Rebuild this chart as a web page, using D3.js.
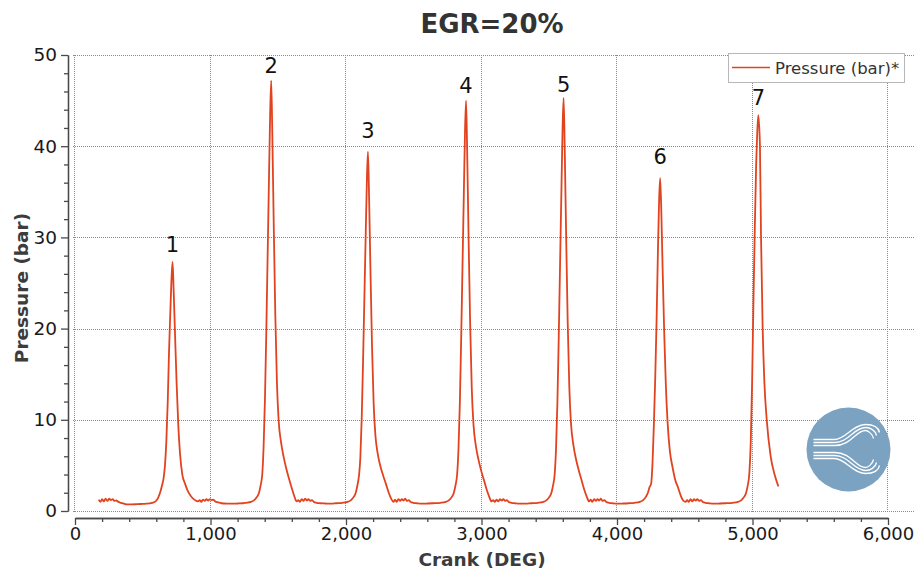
<!DOCTYPE html>
<html>
<head>
<meta charset="utf-8">
<script src="https://cdn.jsdelivr.net/npm/d3@7"></script>
<style>
  html, body { margin: 0; padding: 0; background: #fff; }
  svg { display: block; font-family: "DejaVu Sans", Verdana, sans-serif; }
</style>
</head>
<body>
<svg id="chart" width="915" height="574"></svg>
<script>
// Cylinder pressure trace, EGR = 20 %
const crankDeg = [
  175, 188, 200, 213, 226, 240, 252, 265, 278, 290, 305, 320, 340, 360, 380, 420, 460, 500, 530,
  570, 595, 615, 630, 642, 654, 664, 674, 684, 694, 704, 712, 720, 728, 738, 750, 762, 775, 792, 812, 832, 852, 872, 890, 908,
  920, 932, 945, 958, 970, 983, 995, 1008, 1020, 1035, 1055, 1080, 1120, 1160, 1200, 1240,
  1258, 1298, 1323, 1343, 1358, 1370, 1382, 1392, 1402, 1412, 1422, 1432, 1440, 1448, 1456, 1466, 1478, 1490, 1503, 1520, 1540, 1560, 1580, 1600, 1618, 1636,
  1648, 1660, 1673, 1686, 1698, 1711, 1723, 1736, 1748, 1763, 1783, 1808, 1848, 1888, 1928,
  1972, 2012, 2037, 2057, 2072, 2084, 2096, 2106, 2116, 2126, 2136, 2146, 2154, 2162, 2170, 2180, 2192, 2204, 2217, 2234, 2254, 2274, 2294, 2314, 2332, 2350,
  2362, 2374, 2387, 2400, 2412, 2425, 2437, 2450, 2462, 2477, 2497, 2522, 2562, 2602, 2642,
  2696, 2736, 2761, 2781, 2796, 2808, 2820, 2830, 2840, 2850, 2860, 2870, 2878, 2886, 2894, 2904, 2916, 2928, 2941, 2958, 2978, 2998, 3018, 3038, 3056, 3074,
  3086, 3098, 3111, 3124, 3136, 3149, 3161, 3174, 3186, 3201, 3221, 3246, 3286, 3326, 3366,
  3416, 3456, 3481, 3501, 3516, 3528, 3540, 3550, 3560, 3570, 3580, 3590, 3598, 3606, 3614, 3624, 3636, 3648, 3661, 3678, 3698, 3718, 3738, 3758, 3776, 3794,
  3806, 3818, 3831, 3844, 3856, 3869, 3881, 3894, 3906, 3921, 3941, 3966, 4006, 4046, 4086,
  4128, 4168, 4193, 4213, 4228, 4240, 4252, 4262, 4272, 4282, 4292, 4302, 4310, 4318, 4326, 4336, 4348, 4360, 4373, 4390, 4410, 4430, 4450, 4470, 4488, 4506,
  4518, 4530, 4543, 4556, 4568, 4581, 4593, 4606, 4618, 4633, 4653, 4678, 4718, 4758, 4798,
  4853, 4893, 4918, 4938, 4953, 4965, 4977, 4987, 4997, 5007, 5017, 5027, 5035, 5043, 5055, 5063, 5075, 5088, 5105, 5134, 5163, 5191
];

const pressureBar = [
  1.25, 1.0, 1.3, 1.05, 1.35, 1.1, 1.35, 1.2, 1.3, 1.1, 1.15, 1.0, 0.9, 0.8, 0.72, 0.72, 0.75, 0.78, 0.8,
  0.9, 1.05, 1.5, 2.1, 2.8, 3.6, 5.0, 7.6, 11.8, 17.5, 22.0, 25.4, 27.3, 24.2, 19.5, 14.0, 9.5, 6.3, 4.0, 3.0, 2.2, 1.7, 1.35, 1.15, 1.05,
  1.2, 1.0, 1.25, 1.1, 1.3, 1.15, 1.3, 1.2, 1.25, 1.05, 0.95, 0.85, 0.8, 0.8, 0.82, 0.85,
  0.9, 1.0, 1.2, 1.55, 2.0, 2.8, 4.0, 7.1, 12.3, 19.8, 28.3, 36.8, 43.4, 47.2, 41.5, 32.1, 21.7, 14.2, 9.9, 7.6, 5.9, 4.6, 3.5, 2.5, 1.65, 1.05,
  1.2, 1.0, 1.3, 1.1, 1.35, 1.15, 1.3, 1.1, 1.2, 1.0, 0.9, 0.85, 0.82, 0.8, 0.85,
  0.9, 1.0, 1.2, 1.55, 2.0, 2.8, 3.9, 5.9, 10.2, 16.5, 23.6, 30.7, 36.2, 39.4, 34.7, 26.8, 18.1, 11.8, 8.3, 6.3, 4.9, 3.9, 3.0, 2.05, 1.4, 1.0,
  1.25, 1.0, 1.3, 1.1, 1.3, 1.15, 1.35, 1.1, 1.2, 1.0, 0.9, 0.85, 0.8, 0.82, 0.85,
  0.9, 1.0, 1.2, 1.55, 2.0, 2.8, 4.0, 6.75, 11.7, 18.9, 27.0, 35.1, 41.4, 45.0, 39.6, 30.6, 20.7, 13.5, 9.45, 7.2, 5.6, 4.4, 3.4, 2.35, 1.6, 1.05,
  1.2, 1.0, 1.25, 1.05, 1.3, 1.15, 1.3, 1.1, 1.2, 1.0, 0.9, 0.85, 0.8, 0.8, 0.85,
  0.9, 1.0, 1.2, 1.55, 2.0, 2.8, 4.0, 6.8, 11.8, 19.0, 27.2, 35.3, 41.7, 45.3, 39.9, 30.8, 20.8, 13.6, 9.5, 7.25, 5.65, 4.45, 3.4, 2.35, 1.6, 1.05,
  1.25, 1.0, 1.3, 1.1, 1.3, 1.15, 1.35, 1.1, 1.2, 1.0, 0.9, 0.85, 0.8, 0.82, 0.85,
  0.9, 1.0, 1.2, 1.55, 2.0, 2.6, 3.0, 5.2, 9.4, 14.5, 20.8, 28.5, 33.6, 36.5, 33.5, 27.0, 19.8, 14.0, 9.8, 6.6, 4.8, 3.4, 2.6, 1.7, 1.15, 1.0,
  1.2, 1.0, 1.3, 1.05, 1.3, 1.15, 1.3, 1.1, 1.2, 1.0, 0.9, 0.85, 0.8, 0.82, 0.85,
  0.9, 1.0, 1.2, 1.55, 2.0, 2.8, 4.2, 7.5, 14.0, 23.0, 31.0, 38.0, 41.5, 43.4, 40.0, 30.0, 20.0, 14.0, 10.0, 6.0, 4.0, 2.7
];

// Cycle numbers written above each firing peak (anchor height in bar)
const peakLabels = ["1", "2", "3", "4", "5", "6", "7"];
const peakCrank = [720, 1448, 2162, 2886, 3606, 4318, 5043];
const peakLabelBar = [28.4, 48.0, 40.9, 45.8, 45.9, 38.05, 44.5];

const xMajorTicks = [0, 1000, 2000, 3000, 4000, 5000, 6000];
const yMajorTicks = [0, 10, 20, 30, 40, 50];

const chartTitle = "EGR=20%";
const xTitle = "Crank (DEG)";
const yTitle = "Pressure (bar)";
const seriesName = "Pressure (bar)*";

const W = 915, H = 574;
const lineColor = "#e2431f";
const svg = d3.select("#chart");

const x = d3.scaleLinear().domain([0, 6000]).range([75, 888]);
const y = d3.scaleLinear().domain([0, 50]).range([511, 55]);

// grid (dotted), running on past the last axis tick to the window edge
const grid = svg.append("g").attr("stroke", "#8a8a8a").attr("stroke-width", 1)
  .attr("stroke-dasharray", "1,1").attr("shape-rendering", "crispEdges");
grid.selectAll("line.h").data(yMajorTicks).join("line").attr("class", "h")
  .attr("x1", x(0) - 2).attr("x2", W)
  .attr("y1", d => Math.round(y(d)) + 0.5).attr("y2", d => Math.round(y(d)) + 0.5);
grid.selectAll("line.v").data(xMajorTicks).join("line").attr("class", "v")
  .attr("y1", y(50)).attr("y2", y(0) + 1)
  .attr("x1", d => Math.round(x(d)) - 0.5).attr("x2", d => Math.round(x(d)) - 0.5);

// axes, offset from the plot frame
const axisColor = "#4a4a4a";
const xAxisY = 518, yAxisX = 68;

const xMinor = d3.range(0, 6001, 200).filter(v => v % 1000 !== 0);
const yMinor = d3.range(0, 51, 2).filter(v => v % 10 !== 0);

const gx = svg.append("g").attr("transform", `translate(0,${xAxisY})`);
gx.append("g").call(d3.axisBottom(x).tickValues(xMinor).tickSize(4).tickSizeOuter(0).tickFormat(""));
gx.append("g").call(d3.axisBottom(x).tickValues(xMajorTicks).tickSize(7).tickSizeOuter(0)
  .tickPadding(2).tickFormat(d3.format(",")));
gx.selectAll("path, line").attr("stroke", axisColor).attr("stroke-width", 1.3);
gx.selectAll("text").attr("font-size", 18).attr("fill", "#1a1a1a")
  .attr("font-family", "'DejaVu Sans', Verdana, sans-serif");

const gy = svg.append("g").attr("transform", `translate(${yAxisX},0)`);
gy.append("g").call(d3.axisLeft(y).tickValues(yMinor).tickSize(4).tickSizeOuter(0).tickFormat(""));
gy.append("g").call(d3.axisLeft(y).tickValues(yMajorTicks).tickSize(7).tickSizeOuter(0).tickPadding(4));
gy.selectAll("path, line").attr("stroke", axisColor).attr("stroke-width", 1.3);
gy.selectAll("text").attr("font-size", 18.5).attr("fill", "#1a1a1a")
  .attr("font-family", "'DejaVu Sans', Verdana, sans-serif");

// watermark logo (bottom right)
const logo = svg.append("g").attr("transform", "translate(848.5,449.5)");
logo.append("circle").attr("r", 42).attr("fill", "#7ba2c1");
[0, 3, 6].forEach(o => {
  const up = `M-35,${-10 + o} L-14,${-10 + o} C${-3 + o},${-10 + o} ${4 + o * 0.5},${-25 + o} ${17},${-25 + o} C${25 - o},${-25 + o} ${30 - o},${-22 + o} ${31 - o},${-17 + o}`;
  const dn = `M-35,${9 - o} L-14,${9 - o} C${-3 + o},${9 - o} ${4 + o * 0.5},${24 - o} ${17},${24 - o} C${25 - o},${24 - o} ${30 - o},${21 - o} ${31 - o},${16 - o}`;
  logo.append("path").attr("d", up).attr("fill", "none").attr("stroke", "#fff").attr("stroke-width", 1.3);
  logo.append("path").attr("d", dn).attr("fill", "none").attr("stroke", "#fff").attr("stroke-width", 1.3);
});

// pressure trace
const pts = crankDeg.map((c, i) => [c, pressureBar[i]]);
svg.append("path").datum(pts)
  .attr("fill", "none").attr("stroke", lineColor).attr("stroke-width", 1.8)
  .attr("stroke-linejoin", "round")
  .attr("d", d3.line().curve(d3.curveMonotoneX).x(d => x(d[0])).y(d => y(d[1])));

// peak numbers
svg.append("g").selectAll("text").data(peakLabels).join("text")
  .attr("x", (d, i) => x(peakCrank[i]))
  .attr("y", (d, i) => y(peakLabelBar[i]))
  .attr("text-anchor", "middle").attr("font-size", 21).attr("fill", "#111")
  .text(d => d);

// legend
const lg = svg.append("g");
lg.append("rect").attr("x", 728.5).attr("y", 53.5).attr("width", 176).attr("height", 29)
  .attr("fill", "#fff").attr("stroke", "#b8b8b8");
lg.append("line").attr("x1", 732).attr("x2", 770).attr("y1", 67.5).attr("y2", 67.5)
  .attr("stroke", lineColor).attr("stroke-width", 1.7);
lg.append("text").attr("x", 775).attr("y", 74).attr("font-size", 16.5).attr("fill", "#333")
  .text(seriesName);

// titles
svg.append("text").attr("x", 492).attr("y", 33).attr("text-anchor", "middle")
  .attr("font-size", 26).attr("font-weight", "bold").attr("fill", "#333").text(chartTitle);
svg.append("text").attr("x", 482).attr("y", 566).attr("text-anchor", "middle")
  .attr("font-size", 18.5).attr("font-weight", "bold").attr("fill", "#3c3c3c").text(xTitle);
svg.append("text").attr("transform", "translate(28,288) rotate(-90)").attr("text-anchor", "middle")
  .attr("font-size", 18.5).attr("font-weight", "bold").attr("fill", "#3c3c3c").text(yTitle);
</script>
</body>
</html>
